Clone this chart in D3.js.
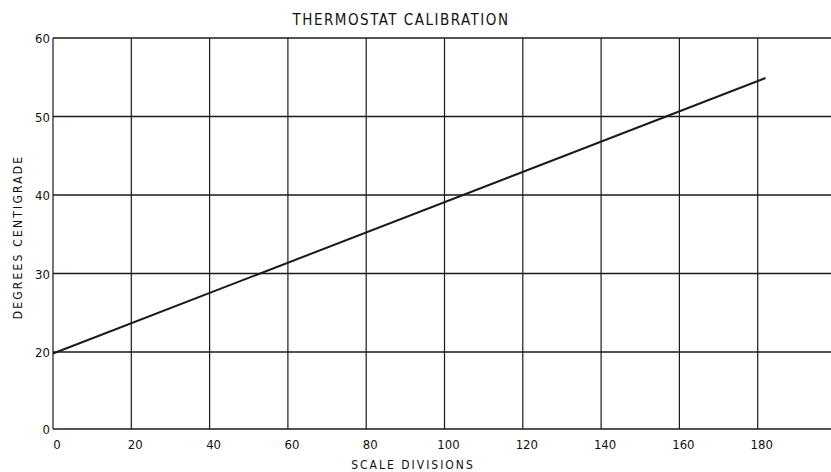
<!DOCTYPE html>
<html><head><meta charset="utf-8">
<script src="https://cdn.jsdelivr.net/npm/d3@7"></script>
<style>
html,body{margin:0;padding:0;background:#fff;}
svg{display:block;}
text{font-family:"DejaVu Sans Condensed","DejaVu Sans",sans-serif;fill:#111;}
</style></head><body>
<div id="chart"></div>
<script>
const title = "THERMOSTAT CALIBRATION";
const xLabel = "SCALE DIVISIONS";
const yLabel = "DEGREES CENTIGRADE";
const xTicks = [0, 20, 40, 60, 80, 100, 120, 140, 160, 180];
const yTicks = [0, 20, 30, 40, 50, 60];
const scaleDivisions = [0, 182];
const degrees = [19.6, 54.9];

const W = 831, H = 472;
const svg = d3.select("#chart").append("svg").attr("width", W).attr("height", H);

const x = d3.scaleLinear().domain([0, 200]).range([53, 836]);
// broken axis: 0 to 20 compressed into one row
const y = d3.scaleLinear().domain([0, 20, 60]).range([429, 352, 38]);

const ink = "#1a1a1a";
const g = svg.append("g");

// horizontal grid
g.selectAll("line.h").data(yTicks).join("line")
  .attr("x1", x(0)).attr("x2", W)
  .attr("y1", d => y(d)).attr("y2", d => y(d))
  .attr("stroke", ink).attr("stroke-width", 1.3);
// vertical grid
g.selectAll("line.v").data(xTicks).join("line")
  .attr("x1", d => x(d)).attr("x2", d => x(d))
  .attr("y1", y(60)).attr("y2", y(0))
  .attr("stroke", ink).attr("stroke-width", 1.2);

// y tick labels
g.selectAll("text.yt").data(yTicks).join("text")
  .attr("x", x(0) - 3).attr("y", d => y(d) + 5)
  .attr("text-anchor", "end").attr("font-size", 13)
  .text(d => d);
// x tick labels
g.selectAll("text.xt").data(xTicks).join("text")
  .attr("x", d => x(d) + 4).attr("y", y(0) + 20)
  .attr("text-anchor", "middle").attr("font-size", 13)
  .text(d => d);

// data line
const pts = scaleDivisions.map((d, i) => [d, degrees[i]]);
svg.append("path").datum(pts)
  .attr("d", d3.line().x(d => x(d[0])).y(d => y(d[1])))
  .attr("fill", "none").attr("stroke", ink).attr("stroke-width", 2);

// title
svg.append("text").attr("x", 401).attr("y", 25)
  .attr("text-anchor", "middle").attr("font-size", 15).attr("letter-spacing", 1.5)
  .text(title);
// x label
svg.append("text").attr("x", 413).attr("y", 469)
  .attr("text-anchor", "middle").attr("font-size", 12).attr("letter-spacing", 2)
  .text(xLabel);
// y label
svg.append("text").attr("transform", "translate(22,237) rotate(-90)")
  .attr("text-anchor", "middle").attr("font-size", 12).attr("letter-spacing", 2.2)
  .text(yLabel);
</script>
</body></html>
